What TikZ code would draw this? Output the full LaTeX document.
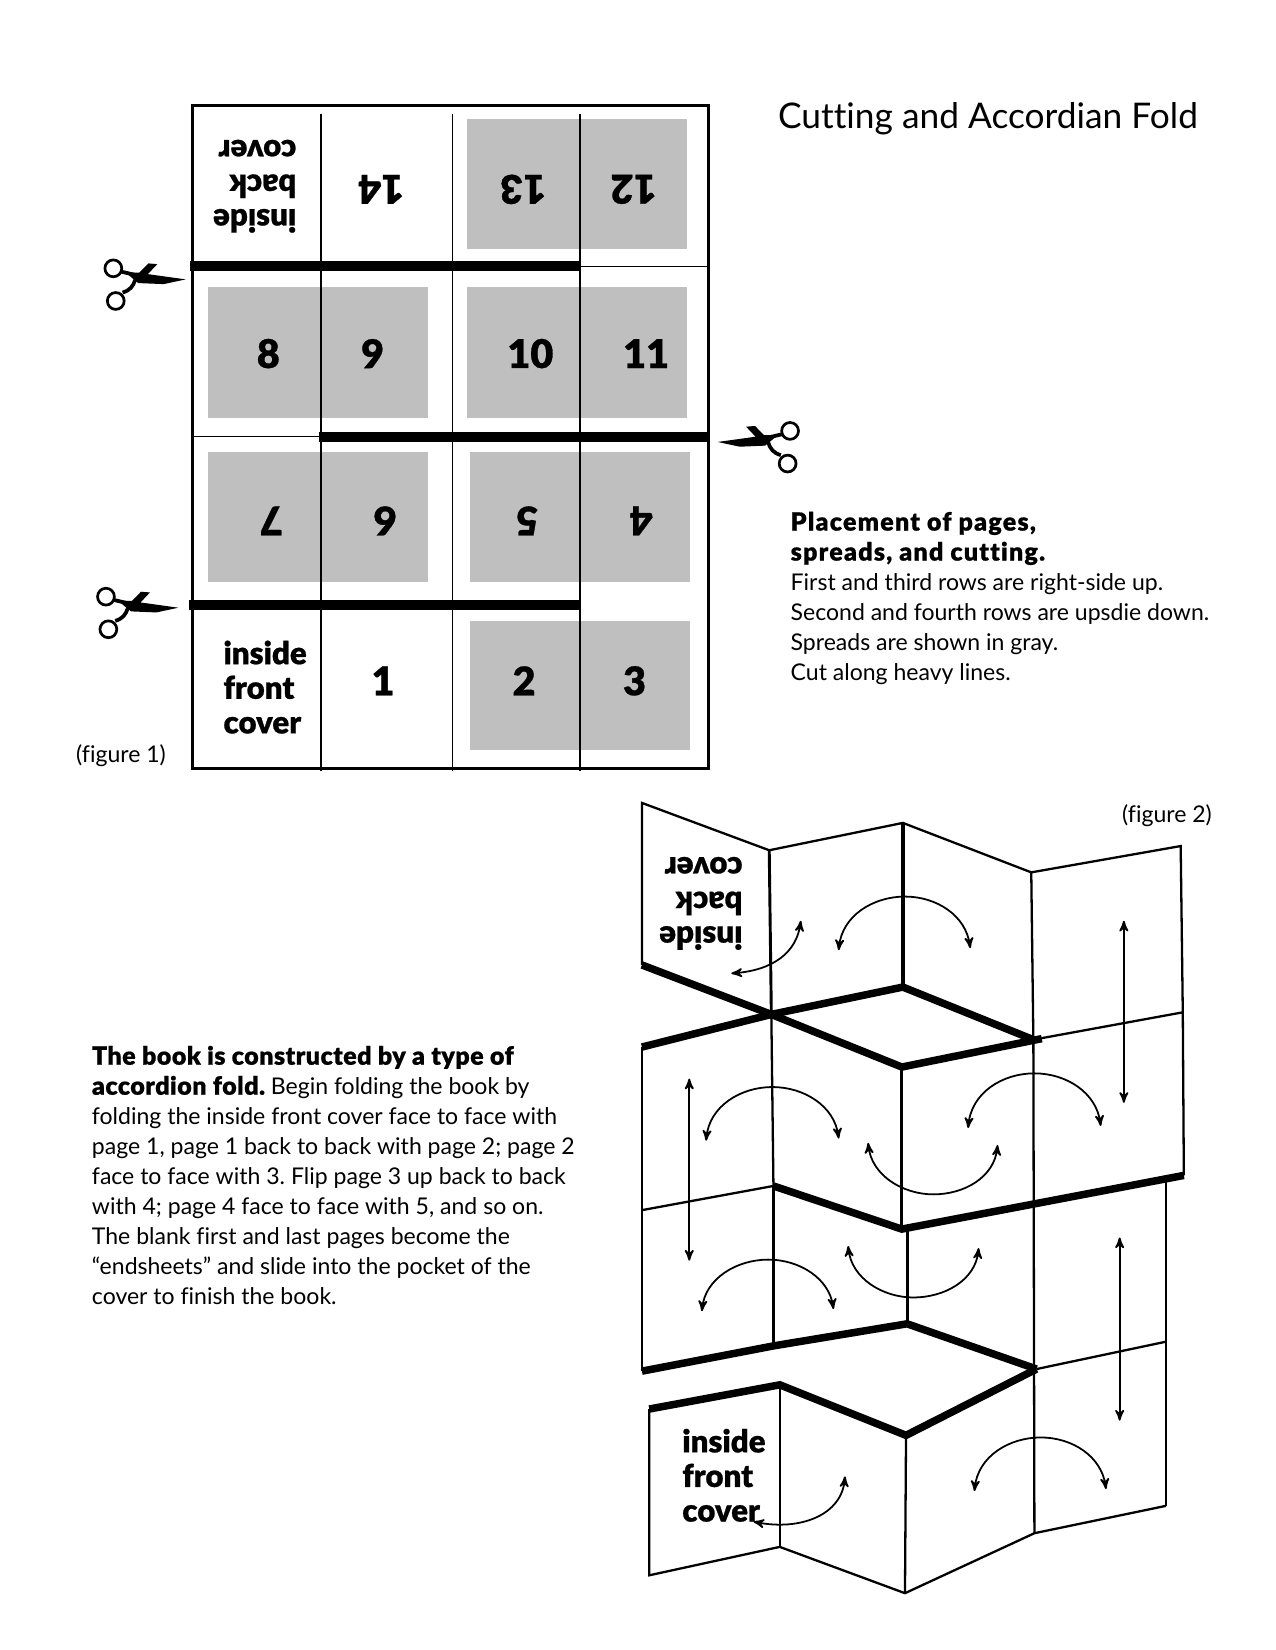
\documentclass[tikz,border=0pt]{standalone}
\usepackage{fontspec}
\setmainfont{Lato}[Ligatures=NoCommon, BoldFont={Lato Black}, BoldFeatures={FakeBold=0.7}]
\usetikzlibrary{arrows}

\begin{document}
\frenchspacing
\begin{tikzpicture}[x=0.505pt, y=-0.505pt, >=stealth']
        % Define styles
        \tikzstyle{spread} = [fill=black!25, draw=none]
        \tikzstyle{pagenum} = [font=\bfseries\fontsize{19}{19}\selectfont, inner sep=0pt]
        \tikzstyle{covertext} = [font=\bfseries\fontsize{15}{16.6}\selectfont, align=left, inner sep=0pt, anchor=west]
        \tikzstyle{note} = [font=\fontsize{11.05}{14.4}\selectfont, align=left, inner sep=0pt, anchor=north west]
        \tikzstyle{sheet} = [line width=0.7pt]
        \tikzstyle{fold} = [line width=1.1pt]
        \tikzstyle{cut} = [line width=4.6pt]
        \tikzstyle{heavy} = [line width=3.6pt, line join=miter]
        \tikzstyle{move} = [<->, line width=0.85pt]
        \tikzset{
            pics/scissors/.style={code={
                \fill (-12,-4) -- (1,-4) -- (9.5,-12.7) -- (18,-12) -- (9,-2.5) -- (45,2.5) -- (24,7) -- (0,6) -- (-5,2) -- cycle;
                \draw [line width=1.3pt] (-23.8,-8) circle (8);
                \draw [line width=1.3pt] (-21.5,23) circle (8);
                \draw [line width=1.8pt] (-17,-5) -- (-4,-2);
                \draw [line width=1.8pt] (-15,15) .. controls (-8,13) and (-5,9) .. (-3,3);
            }}
        }
        \useasboundingbox (0,0) rectangle (1212,1568);

        % Figure 1: spreads
        \fill [spread] (444,113) rectangle (653,237);
        \fill [spread] (198,273) rectangle (407,397);
        \fill [spread] (444,273) rectangle (653,397);
        \fill [spread] (198,430) rectangle (407,553);
        \fill [spread] (447,430) rectangle (656,553);
        \fill [spread] (447,590) rectangle (656,713);

        % Figure 1: sheet and cuts
        \draw [sheet] (305,108) -- (305,733);
        \draw [sheet] (430,108) -- (430,733);
        \draw [sheet] (551,108) -- (551,733);
        \draw [sheet] (551,253) -- (673,253);
        \draw [sheet] (182,415) -- (305,415);
        \draw [line width=1.3pt] (183,100) rectangle (673,730);
        \draw [cut] (181,253) -- (552,253);
        \draw [cut] (303,415) -- (673,415);
        \draw [cut] (180,575) -- (552,575);
        \pic at (131.5,263) {scissors};
        \pic [xscale=-1] at (727,417.5) {scissors};
        \pic at (124.5,575) {scissors};

        % Figure 1: pages
        \node [covertext, rotate=180] (backcover) at (282,177) {inside\\back\\cover};
        \node [pagenum, rotate=180] (p14) at (362,180) {14};
        \node [pagenum, rotate=180] (p13) at (497,180) {13};
        \node [pagenum, rotate=180] (p12) at (602,180) {12};
        \node [pagenum] (p8) at (255,336) {8};
        \node [pagenum] (p9) at (354,336) {9};
        \node [pagenum] (p10) at (504,336) {10};
        \node [pagenum] (p11) at (614,336) {11};
        \node [pagenum, rotate=180] (p7) at (258,495) {7};
        \node [pagenum, rotate=180] (p6) at (366,495) {6};
        \node [pagenum, rotate=180] (p5) at (501,495) {5};
        \node [pagenum, rotate=180] (p4) at (609,495) {4};
        \node [covertext] (frontcover) at (212,653) {inside\\front\\cover};
        \node [pagenum] (p1) at (364,647) {1};
        \node [pagenum] (p2) at (498,647) {2};
        \node [pagenum] (p3) at (603,647) {3};

        % Text
        \node [inner sep=0pt, anchor=base west, font=\fontsize{16.95}{20}\selectfont] (title) at (739,122) {Cutting and Accordian Fold};
        \node [note, anchor=base west] (figa) at (72,725) {(figure 1)};
        \node [note, anchor=base west] (figb) at (1066,782) {(figure 2)};
        \node [note] (placement) at (751,486) {\fontsize{12}{14.4}\selectfont\bfseries\addfontfeature{LetterSpace=5}Placement of pages,\\\fontsize{12}{14.4}\selectfont\bfseries\addfontfeature{LetterSpace=5}spreads, and cutting.\\First and third rows are right-side up.\\Second and fourth rows are upsdie down.\\Spreads are shown in gray.\\Cut along heavy lines.};
        \node [note] (howto) at (87,993.5) {\fontsize{12}{14.4}\selectfont\bfseries\addfontfeature{LetterSpace=2}The book is constructed by a type of\\{\fontsize{12}{14.4}\selectfont\bfseries\addfontfeature{LetterSpace=2}accordion fold.} Begin folding the book by\\folding the inside front cover face to face with\\page 1, page 1 back to back with page 2; page 2\\face to face with 3. Flip page 3 up back to back\\with 4; page 4 face to face with 5, and so on.\\The blank first and last pages become the\\``endsheets'' and slide into the pocket of the\\cover to finish the book.};

        % Figure 2: corners
        \coordinate (a1) at (610,763);  \coordinate (a2) at (731,808);  \coordinate (a3) at (858,782);
        \coordinate (a4) at (980,829);  \coordinate (a5) at (1122,804);
        \coordinate (b1) at (610,917);  \coordinate (b2) at (733,964);  \coordinate (b3) at (858,938);
        \coordinate (b4) at (982,988);  \coordinate (b5) at (1124,962);
        \coordinate (c1) at (610,995);  \coordinate (c3) at (857,1014); \coordinate (c4) at (990,987);
        \coordinate (d1) at (610,1150); \coordinate (d2) at (735,1127); \coordinate (d3) at (857,1168);
        \coordinate (d6) at (862,1168); \coordinate (d5) at (1125,1117); \coordinate (d7) at (1108,1120);
        \coordinate (e1) at (610,1303); \coordinate (e2) at (735,1279); \coordinate (e3) at (862,1258);
        \coordinate (e4) at (985,1301); \coordinate (e5) at (1108,1275);
        \coordinate (f1) at (617,1339); \coordinate (f2) at (741,1316); \coordinate (f3) at (861,1364);
        \coordinate (g1) at (617,1497); \coordinate (g2) at (741,1470); \coordinate (g3) at (860,1514);
        \coordinate (g4) at (983,1457); \coordinate (g5) at (1108,1431);

        % Figure 2: folds
        \draw [fold] (a2) -- (a1) -- (b1);
        \draw [fold] (a2) -- (a3) -- (a4);
        \draw [fold] (a4) -- (a5) -- (b5);
        \draw [fold] (b4) -- (b5) -- (d5);
        \draw [line width=1.4pt] (a2) -- (b2);
        \draw [line width=2pt] (a3) -- (b3);
        \draw [fold] (a4) -- (b4);
        \draw [fold] (c1) -- (e1);
        \draw [fold] (b2) -- (d2);
        \draw [line width=1.4pt] (c3) -- (d3);
        \draw [fold] (b4) -- (g4);
        \draw [line width=1.6pt] (d2) -- (e2);
        \draw [fold] (d1) -- (d2);
        \draw [line width=1.4pt] (d6) -- (e3);
        \draw [fold] (d7) -- (e5) -- (g5);
        \draw [fold] (e4) -- (e5);
        \draw [fold] (f1) -- (g1) -- (g2) -- (g3) -- (g4) -- (g5);
        \draw [fold] (f2) -- (g2);
        \draw [fold] (f3) -- (g3);

        % Figure 2: cuts
        \draw [heavy] (b1) -- (b2) -- (b3) -- (b4);
        \draw [heavy] (c1) -- (b2) -- (c3) -- (c4);
        \draw [heavy] (d2) -- (d3) -- (d5);
        \draw [heavy] (e1) -- (e2) -- (e3) -- (e4);
        \draw [heavy] (f1) -- (f2) -- (f3) -- (e4);

        % Figure 2: moves
        \node [coordinate] (m1a) at (695,925) {};
        \node [coordinate] (m1b) at (761,875) {};
        \draw [move] (m1a) .. controls (735,922) and (757,905) .. (m1b);
        \draw [move] (797,903) .. controls (800,870) and (830,852) .. (860,852) .. controls (890,852) and (918,870) .. (922,901);
        \draw [move] (1068,875) -- (1068,1048);
        \draw [move] (671,1084) .. controls (674,1051) and (704,1033) .. (734,1033) .. controls (764,1033) and (793,1051) .. (797,1082);
        \draw [move] (655,1025) -- (655,1198);
        \draw [move] (920,1072) .. controls (923,1038) and (953,1020) .. (983,1020) .. controls (1013,1020) and (1042,1038) .. (1046,1070);
        \draw [move] (825,1086) .. controls (828,1117) and (858,1135) .. (887,1135) .. controls (916,1135) and (945,1119) .. (948,1088);
        \draw [move] (667,1246) .. controls (670,1215) and (700,1197) .. (730,1197) .. controls (760,1197) and (788,1215) .. (792,1244);
        \draw [move] (806,1184) .. controls (809,1215) and (839,1233) .. (868,1233) .. controls (897,1233) and (927,1217) .. (930,1186);
        \draw [move] (1064,1176) -- (1064,1350);
        \draw [move] (716,1446) .. controls (760,1455) and (800,1440) .. (803,1403);
        \draw [move] (926,1417) .. controls (929,1384) and (959,1366) .. (989,1366) .. controls (1019,1366) and (1047,1384) .. (1051,1415);

        % Figure 2: covers
        \node [covertext, rotate=180] (backfold) at (706,858.5) {inside\\back\\cover};
        \node [covertext] (frontfold) at (648,1402) {inside\\front\\cover};
    \end{tikzpicture}
\end{document}
